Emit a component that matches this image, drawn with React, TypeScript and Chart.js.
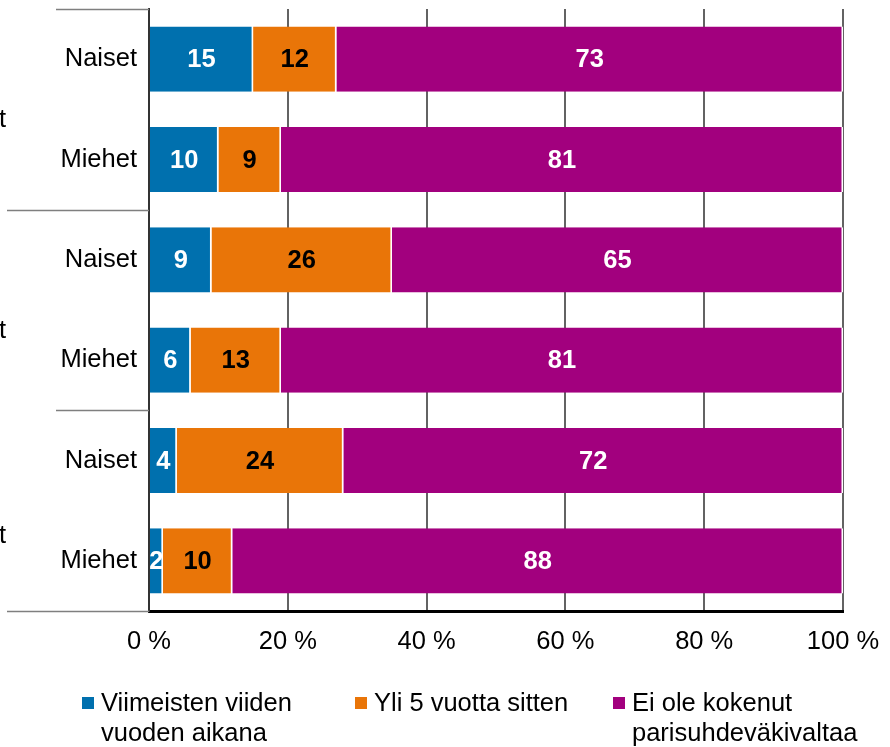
import React, { useEffect, useRef } from "react";
import { Chart, registerables } from "chart.js";

Chart.register(...registerables);

const categories = ["Naiset", "Miehet", "Naiset", "Miehet", "Naiset", "Miehet"];
const groupLabels = ["t", "t", "t"];
const seriesLabels = [
  ["Viimeisten viiden", "vuoden aikana"],
  ["Yli 5 vuotta sitten"],
  ["Ei ole kokenut", "parisuhdeväkivaltaa"],
];
const recent = [15, 10, 9, 6, 4, 2];
const over5 = [12, 9, 26, 13, 24, 10];
const never = [73, 81, 65, 81, 72, 88];
const xTicks = [0, 20, 40, 60, 80, 100];

const COLORS = ["#0070AE", "#E97508", "#A2007E"];
const LABEL_COLORS = ["#ffffff", "#000000", "#ffffff"];
const FONT = "'Liberation Sans', Arial, sans-serif";
const FS = 25.5;

const overlayPlugin = {
  id: "overlay",
  afterDatasetsDraw(chart: any) {
    const ctx = chart.ctx;
    chart.data.datasets.forEach((ds: any, di: number) => {
      const meta = chart.getDatasetMeta(di);
      meta.data.forEach((bar: any, i: number) => {
        const v = ds.data[i];
        const cx = (bar.x + bar.base) / 2;
        ctx.save();
        ctx.font = `bold ${FS}px ${FONT}`;
        ctx.fillStyle = LABEL_COLORS[di];
        ctx.textAlign = "center";
        ctx.textBaseline = "middle";
        ctx.fillText(String(v), cx, bar.y + 1);
        ctx.restore();
      });
    });
  },
  afterDraw(chart: any) {
    const ctx = chart.ctx;
    const y = chart.scales.y;
    const area = chart.chartArea;
    const band = y.getPixelForValue(1) - y.getPixelForValue(0);
    const bounds = [0, 2, 4, 6];
    const starts = [56, 7, 56, 7];
    ctx.save();
    ctx.strokeStyle = "#7f7f7f";
    ctx.lineWidth = 1.5;
    bounds.forEach((b, k) => {
      const py = Math.round(y.getPixelForValue(b) - band / 2) + 0.5;
      ctx.beginPath();
      ctx.moveTo(starts[k], py);
      ctx.lineTo(area.left, py);
      ctx.stroke();
    });
    ctx.restore();
    const gOff = [11, 21, 25];
    ctx.save();
    ctx.font = `${FS}px ${FONT}`;
    ctx.fillStyle = "#000";
    ctx.textAlign = "right";
    ctx.textBaseline = "middle";
    groupLabels.forEach((g, k) => {
      const cy = (y.getPixelForValue(k * 2) + y.getPixelForValue(k * 2 + 1)) / 2 + gOff[k];
      ctx.fillText(g, 6, cy);
    });
    ctx.restore();
    const legendX = [82, 355, 613];
    const legendY = 703;
    const lineH = 30;
    ctx.save();
    ctx.font = `${FS}px ${FONT}`;
    ctx.textAlign = "left";
    ctx.textBaseline = "middle";
    chart.data.datasets.forEach((ds: any, di: number) => {
      const x = legendX[di];
      ctx.fillStyle = ds.backgroundColor;
      ctx.fillRect(x, legendY - 6, 12, 12);
      ctx.fillStyle = "#000";
      seriesLabels[di].forEach((line, li) => {
        ctx.fillText(line, x + 19, legendY + 1 + li * lineH);
      });
    });
    ctx.restore();
  },
};

export default function App() {
  const ref = useRef<HTMLCanvasElement | null>(null);
  useEffect(() => {
    document.body.style.margin = "0";
    const canvas = ref.current!;
    const chart = new Chart(canvas, {
      type: "bar",
      data: {
        labels: categories,
        datasets: [recent, over5, never].map((d, i) => ({
          label: seriesLabels[i].join(" "),
          data: d,
          backgroundColor: COLORS[i],
          borderColor: "#ffffff",
          borderWidth: { left: 0, right: 1.5, top: 0, bottom: 0 },
          borderSkipped: false,
          categoryPercentage: 1,
          barPercentage: 0.65,
        })),
      },
      options: {
        indexAxis: "y",
        animation: false,
        responsive: false,
        maintainAspectRatio: false,
        layout: { padding: { left: 0, right: 47, top: 9, bottom: 0 } },
        plugins: {
          legend: { display: false },
          tooltip: { enabled: false },
        },
        scales: {
          x: {
            stacked: true,
            min: 0,
            max: 100,
            afterBuildTicks: (s: any) => {
              s.ticks = xTicks.map((v) => ({ value: v }));
            },
            afterFit: (s: any) => {
              s.height = 136;
              s.paddingLeft = 0;
              s.paddingRight = 0;
            },
            grid: {
              color: "#636363",
              lineWidth: 2,
              drawTicks: false,
            },
            border: { color: "#000000", width: 3 },
            ticks: {
              padding: 16,
              color: "#000",
              font: { family: FONT, size: FS },
              callback: (v: any) => `${v} %`,
            },
          },
          y: {
            stacked: true,
            afterFit: (s: any) => {
              s.width = 149;
              s.paddingTop = 0;
              s.paddingBottom = 0;
            },
            grid: { display: false, drawTicks: false },
            border: { color: "#333333", width: 2 },
            ticks: {
              padding: 12,
              color: "#000",
              font: { family: FONT, size: FS },
            },
          },
        },
      },
      plugins: [overlayPlugin],
    });
    return () => chart.destroy();
  }, []);
  return (
    <div style={{ position: "absolute", left: 0, top: 0, width: 890, height: 747 }}>
      <canvas ref={ref} width={890} height={747} style={{ display: "block" }} />
    </div>
  );
}
